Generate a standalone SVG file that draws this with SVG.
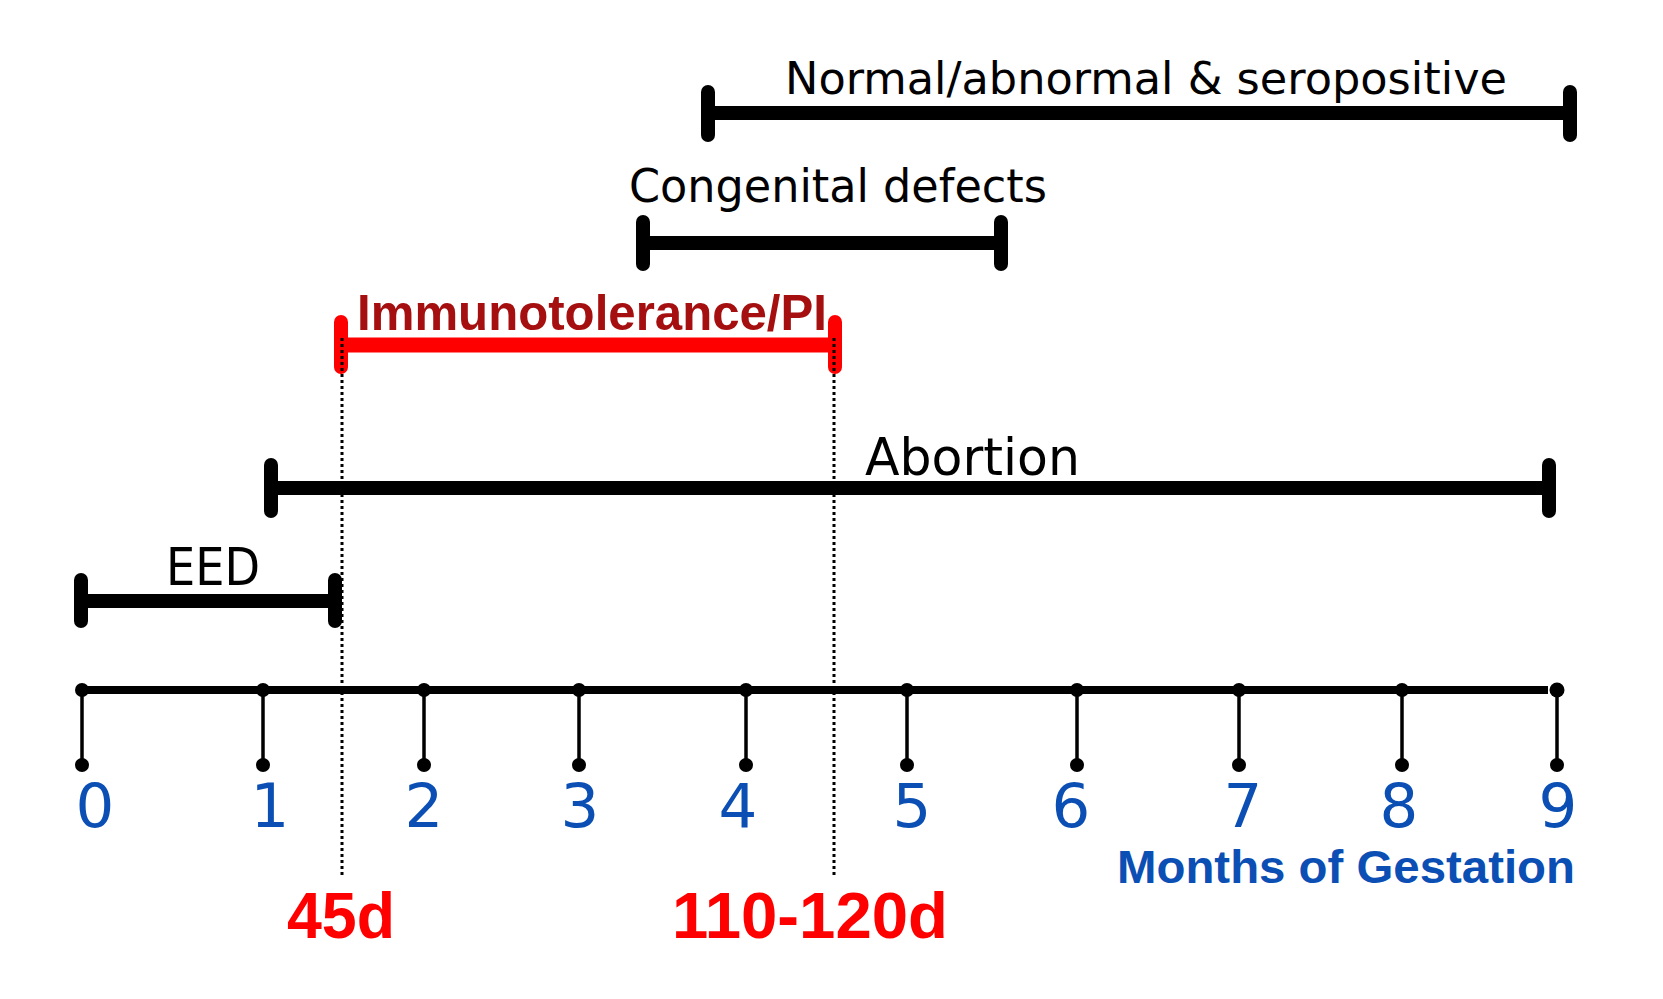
<svg xmlns="http://www.w3.org/2000/svg" width="1663" height="999" viewBox="0 0 1663 999">
<style>
.bar{stroke:#000;stroke-width:14;fill:none;stroke-linecap:butt}
.cap{stroke:#000;stroke-width:14;fill:none;stroke-linecap:round}
.rbar{stroke:#FF0000;stroke-width:15;fill:none}
.rcap{stroke:#FF0000;stroke-width:14;fill:none;stroke-linecap:round}
.lbl{font-family:"DejaVu Sans","Liberation Sans",sans-serif;fill:#000}
.num{font-family:"DejaVu Sans","Liberation Sans",sans-serif;fill:#0B4FB4;font-size:61px;text-anchor:middle}
.bold{font-family:"Liberation Sans","DejaVu Sans",sans-serif;font-weight:bold}
.axis{stroke:#000;stroke-width:8}
.tick{stroke:#000;stroke-width:3.5}
.dot{fill:#000}
.dotted{stroke:#000;stroke-width:3;stroke-dasharray:3 3;fill:none}
</style>
<rect width="1663" height="999" fill="#fff"/>

<g id="normal">
<line class="bar" x1="708" y1="113" x2="1570" y2="113"/>
<line class="cap" x1="708" y1="92" x2="708" y2="135"/>
<line class="cap" x1="1570" y1="92" x2="1570" y2="135"/>
<text class="lbl" x="785" y="94" font-size="45" textLength="722" lengthAdjust="spacingAndGlyphs">Normal/abnormal &amp; seropositive</text>
</g>

<g id="congenital">
<line class="bar" x1="643" y1="243" x2="1001" y2="243"/>
<line class="cap" x1="643" y1="222" x2="643" y2="264"/>
<line class="cap" x1="1001" y1="222" x2="1001" y2="264"/>
<text class="lbl" x="629" y="202" font-size="46" textLength="418" lengthAdjust="spacingAndGlyphs">Congenital defects</text>
</g>

<g id="immunotolerance">
<line class="rbar" x1="341" y1="345" x2="835" y2="345"/>
<line class="rcap" x1="341" y1="322" x2="341" y2="367"/>
<line class="rcap" x1="835" y1="322" x2="835" y2="367"/>
<text class="bold" x="357" y="330" font-size="50" fill="#A50F0F" textLength="470" lengthAdjust="spacingAndGlyphs">Immunotolerance/PI</text>
</g>

<g id="abortion">
<line class="bar" x1="271" y1="488" x2="1549" y2="488"/>
<line class="cap" x1="271" y1="465" x2="271" y2="511"/>
<line class="cap" x1="1549" y1="465" x2="1549" y2="511"/>
<text class="lbl" x="865" y="475" font-size="52" textLength="215" lengthAdjust="spacingAndGlyphs">Abortion</text>
</g>

<g id="eed">
<line class="bar" x1="81" y1="601" x2="335" y2="601"/>
<line class="cap" x1="81" y1="580" x2="81" y2="621"/>
<line class="cap" x1="335" y1="580" x2="335" y2="621"/>
<text class="lbl" x="166" y="585" font-size="51" textLength="94" lengthAdjust="spacingAndGlyphs">EED</text>
</g>

<g id="connectors">
<line class="dotted" x1="342" y1="338" x2="342" y2="878"/>
<line class="dotted" x1="834" y1="338" x2="834" y2="878"/>
</g>

<g id="timeline">
<line class="axis" x1="82" y1="690" x2="1548" y2="690"/>
<g id="ticks">
<line class="tick" x1="82" y1="690" x2="82" y2="765"/><circle class="dot" cx="82" cy="690" r="7"/><circle class="dot" cx="82" cy="765" r="7"/>
<line class="tick" x1="263" y1="690" x2="263" y2="765"/><circle class="dot" cx="263" cy="690" r="7"/><circle class="dot" cx="263" cy="765" r="7"/>
<line class="tick" x1="424" y1="690" x2="424" y2="765"/><circle class="dot" cx="424" cy="690" r="7"/><circle class="dot" cx="424" cy="765" r="7"/>
<line class="tick" x1="579" y1="690" x2="579" y2="765"/><circle class="dot" cx="579" cy="690" r="7"/><circle class="dot" cx="579" cy="765" r="7"/>
<line class="tick" x1="746" y1="690" x2="746" y2="765"/><circle class="dot" cx="746" cy="690" r="7"/><circle class="dot" cx="746" cy="765" r="7"/>
<line class="tick" x1="907" y1="690" x2="907" y2="765"/><circle class="dot" cx="907" cy="690" r="7"/><circle class="dot" cx="907" cy="765" r="7"/>
<line class="tick" x1="1077" y1="690" x2="1077" y2="765"/><circle class="dot" cx="1077" cy="690" r="7"/><circle class="dot" cx="1077" cy="765" r="7"/>
<line class="tick" x1="1239" y1="690" x2="1239" y2="765"/><circle class="dot" cx="1239" cy="690" r="7"/><circle class="dot" cx="1239" cy="765" r="7"/>
<line class="tick" x1="1402" y1="690" x2="1402" y2="765"/><circle class="dot" cx="1402" cy="690" r="7"/><circle class="dot" cx="1402" cy="765" r="7"/>
<line class="tick" x1="1557" y1="690" x2="1557" y2="765"/><circle class="dot" cx="1557" cy="690" r="7.5"/><circle class="dot" cx="1557" cy="765" r="7"/>
</g>
<g id="labels">
<text class="num" x="95" y="827">0</text>
<text class="num" x="270" y="827">1</text>
<text class="num" x="424" y="827">2</text>
<text class="num" x="580" y="827">3</text>
<text class="num" x="738" y="827">4</text>
<text class="num" x="912" y="827">5</text>
<text class="num" x="1071" y="827">6</text>
<text class="num" x="1243" y="827">7</text>
<text class="num" x="1399" y="827">8</text>
<text class="num" x="1558" y="827">9</text>
</g>
<text class="bold" x="1117" y="883" font-size="46" fill="#0B4FB4" textLength="458" lengthAdjust="spacingAndGlyphs">Months of Gestation</text>
</g>

<g id="day-labels">
<text class="bold" x="287" y="938" font-size="64" fill="#FF0000" textLength="108" lengthAdjust="spacingAndGlyphs">45d</text>
<text class="bold" x="672" y="938" font-size="64" fill="#FF0000" textLength="276" lengthAdjust="spacingAndGlyphs">110-120d</text>
</g>
</svg>
